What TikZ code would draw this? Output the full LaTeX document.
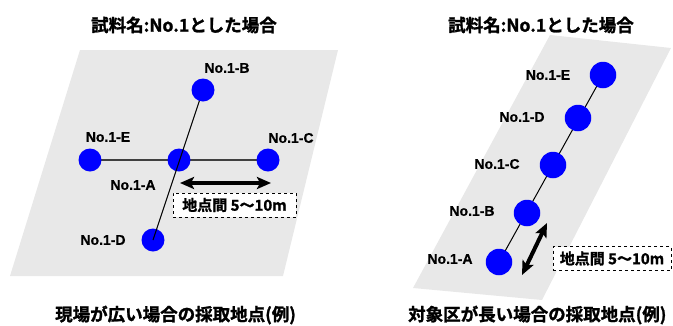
\documentclass[tikz,border=0pt]{standalone}
\usepackage{fontspec}
\usetikzlibrary{arrows.meta}
\IfFontExistsTF{Noto Sans CJK JP Bold}
  {\newfontfamily\jpfont{Noto Sans CJK JP Bold}[FakeBold=1.4]}
  {\newfontfamily\jpfont{Noto Sans CJK JP}[FakeBold=2.4]}
\newfontfamily\latfont{Liberation Sans}[BoldFeatures={FakeBold=0.7}]
\pgfdeclarelayer{back}
\pgfdeclarelayer{mid}
\pgfdeclarelayer{front}
\pgfsetlayers{back,mid,main,front}
\definecolor{dotblue}{HTML}{0000FF}
\definecolor{fieldgray}{HTML}{E8E8E8}
\definecolor{linegray}{HTML}{404040}
\tikzset{
  field/.style={fill=fieldgray, draw=none},
  ptL/.style={circle, fill=dotblue, draw=none, minimum size=23pt, inner sep=0pt},
  ptR/.style={circle, fill=dotblue, draw=none, minimum size=26.5pt, inner sep=0pt},
  lbl/.style={font=\latfont\bfseries\fontsize{14}{14}\selectfont, inner sep=0pt},
  head/.style={font=\jpfont\fontsize{17.5}{18}\selectfont, inner sep=0pt},
  distbox/.style={draw=black, dashed, line width=0.9pt, fill=white, inner sep=0pt,
     font=\jpfont\fontsize{15}{15}\selectfont},
  dimarrow/.style={line width=4pt, {Stealth[length=14pt,width=12pt,inset=3pt]}-{Stealth[length=14pt,width=12pt,inset=3pt]}},
  chain/.style={black, line width=1pt}
}
\begin{document}
\begin{tikzpicture}[x=1pt,y=-1pt]
\useasboundingbox (0,0) rectangle (673,325);
% fields
\begin{pgfonlayer}{back}
\fill[field] (80,50) -- (338,50) -- (283,276) -- (10,276) -- cycle;
\fill[field] (550,35) -- (671,48) -- (542,300) -- (413,288) -- cycle;
\end{pgfonlayer}
% titles and captions
\node[head, anchor=west] (tL) at (91,25) {試料名:No.1とした場合};
\node[head, anchor=west] (tR) at (448,25) {試料名:No.1とした場合};
\node[head, anchor=west] (cL) at (55,315) {現場が広い場合の採取地点(例)};
\node[head, anchor=west] (cR) at (408,315) {対象区が長い場合の採取地点(例)};
% left panel points
\node[ptL] (LE) at (90,160) {};
\node[ptL] (LA) at (179,160) {};
\node[ptL] (LC) at (268,160) {};
\node[ptL] (LD) at (153,240) {};
\begin{pgfonlayer}{front}
\node[ptL] (LB) at (203,90) {};
\end{pgfonlayer}
\begin{pgfonlayer}{mid}
\draw[linegray, line width=1.6pt] (LE.center) -- (LC.center);
\end{pgfonlayer}
\draw[chain] (LB.center) -- (LD.center);
\node[lbl] (lLB) at (227,68) {No.1-B};
\node[lbl] (lLE) at (108,137) {No.1-E};
\node[lbl] (lLC) at (291,138) {No.1-C};
\node[lbl] (lLA) at (133,185) {No.1-A};
\node[lbl] (lLD) at (103,240) {No.1-D};
\coordinate (aL1) at (180,183);
\coordinate (aL2) at (271,183);
\draw[dimarrow] (aL1) -- (aL2);
\node[distbox, minimum width=123pt, minimum height=24pt] (bL) at (234.5,205) {地点間 5〜10m};
% right panel points
\node[ptR] (RA) at (499,262) {};
\node[ptR] (RB) at (527,213) {};
\node[ptR] (RC) at (553,165) {};
\node[ptR] (RD) at (578,118) {};
\node[ptR] (RE) at (603,75) {};
\begin{pgfonlayer}{mid}
\draw[chain] (RA.center) -- (RE.center);
\end{pgfonlayer}
\node[lbl] (lRE) at (548,75) {No.1-E};
\node[lbl] (lRD) at (522,117) {No.1-D};
\node[lbl] (lRC) at (497,164) {No.1-C};
\node[lbl] (lRB) at (472,211) {No.1-B};
\node[lbl] (lRA) at (450,259) {No.1-A};
\coordinate (aR1) at (522,275);
\coordinate (aR2) at (547,223);
\draw[dimarrow] (aR1) -- (aR2);
\node[distbox, minimum width=118pt, minimum height=24pt] (bR) at (612,258.5) {地点間 5〜10m};
\end{tikzpicture}
\end{document}
